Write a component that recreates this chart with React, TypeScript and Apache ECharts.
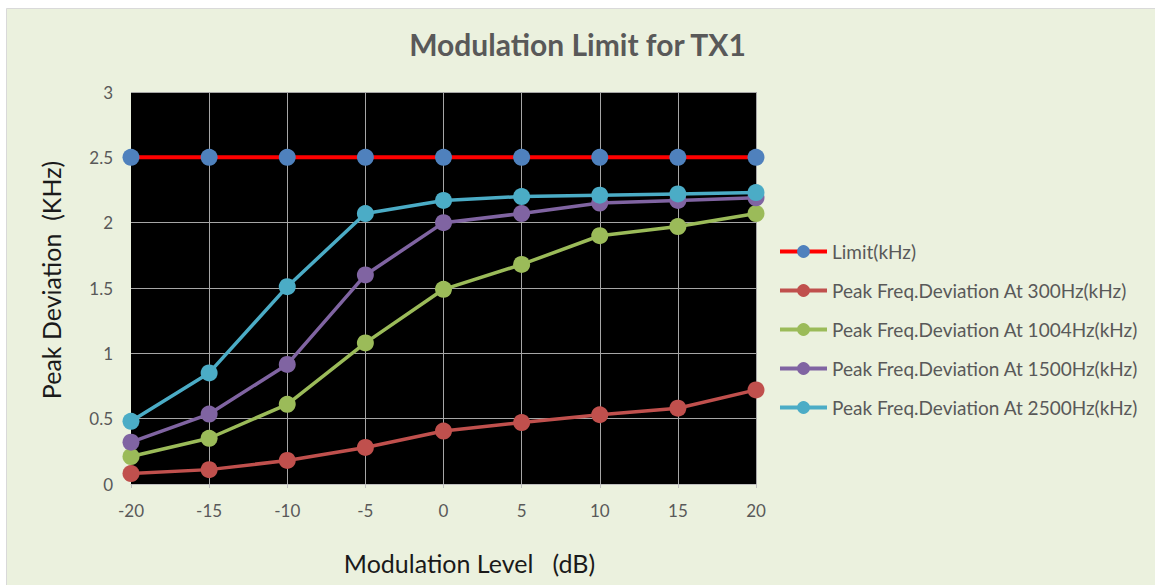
import React, { useEffect, useRef } from "react";
import * as echarts from "echarts";

const levels = [-20, -15, -10, -5, 0, 5, 10, 15, 20];
const limit = [2.5, 2.5, 2.5, 2.5, 2.5, 2.5, 2.5, 2.5, 2.5];
const dev300 = [0.08, 0.11, 0.18, 0.28, 0.405, 0.47, 0.53, 0.58, 0.72];
const dev1004 = [0.21, 0.35, 0.61, 1.08, 1.49, 1.68, 1.9, 1.97, 2.07];
const dev1500 = [0.32, 0.535, 0.915, 1.6, 2.0, 2.07, 2.15, 2.17, 2.19];
const dev2500 = [0.48, 0.85, 1.51, 2.07, 2.17, 2.2, 2.21, 2.22, 2.23];

const seriesNames = [
  "Limit(kHz)",
  "Peak Freq.Deviation At 300Hz(kHz)",
  "Peak Freq.Deviation At 1004Hz(kHz)",
  "Peak Freq.Deviation At 1500Hz(kHz)",
  "Peak Freq.Deviation At 2500Hz(kHz)",
];

const FONT = "Lato";
const GRAY = "#595959";

export default function App() {
  const ref = useRef<HTMLDivElement>(null);
  useEffect(() => {
    if (!ref.current) return;
    const chart = echarts.init(ref.current, undefined, { renderer: "svg" });
    const pair = (vals: number[]) => levels.map((x, i) => [x, vals[i]]);
    const mk = (name: string, vals: number[], lineColor: string, markColor: string, lw: number) => ({
      name,
      type: "line",
      data: pair(vals),
      symbol: "circle",
      symbolSize: 17,
      lineStyle: { color: lineColor, width: lw },
      itemStyle: { color: markColor },
      emphasis: { disabled: true },
    });
    chart.setOption({
      animation: false,
      backgroundColor: "#ffffff",
      graphic: [
        {
          type: "rect",
          shape: { x: 6.5, y: 8.5, width: 1160, height: 590 },
          style: { fill: "#EBF1DE", stroke: "#D9D9D9", lineWidth: 1 },
          z: -10,
          silent: true,
        },
      ],
      title: {
        text: "Modulation Limit for TX1",
        left: "center",
        top: 24,
        padding: [5, 0, 5, 8],
        textStyle: { fontFamily: FONT, fontSize: 30, fontWeight: "bold", color: GRAY },
      },
      legend: {
        orient: "vertical",
        left: 778,
        top: 242,
        padding: 0,
        itemWidth: 47,
        itemHeight: 16,
        itemGap: 20,
        lineStyle: { width: 4 },
        textStyle: { fontFamily: FONT, fontSize: 19, color: GRAY },
        data: seriesNames,
      },
      grid: {
        left: 131,
        top: 92,
        right: 1155 - 756,
        bottom: 585 - 484,
        show: true,
        backgroundColor: "#000000",
        borderWidth: 0,
      },
      xAxis: {
        type: "value",
        min: -20,
        max: 20,
        interval: 5,
        name: "Modulation Level   (dB)",
        nameLocation: "middle",
        nameGap: 66,
        nameTextStyle: { fontFamily: FONT, fontSize: 25, color: "#1a1a1a", padding: [0, 0, 0, 52] },
        axisLine: { show: true, lineStyle: { color: "#BFBFBF", width: 1 } },
        axisTick: { show: true, length: 4, lineStyle: { color: "#BFBFBF" } },
        axisLabel: { fontFamily: FONT, fontSize: 17, color: GRAY, margin: 18 },
        splitLine: { show: true, showMinLine: false, lineStyle: { color: "#A6A6A6", width: 1 } },
      },
      yAxis: {
        type: "value",
        min: 0,
        max: 3,
        interval: 0.5,
        name: "Peak Deviation  (KHz)",
        nameLocation: "middle",
        nameGap: 68,
        nameTextStyle: { fontFamily: FONT, fontSize: 25, color: "#1a1a1a", padding: [0, 0, 0, 16] },
        axisLine: { show: false },
        axisTick: { show: false },
        axisLabel: { fontFamily: FONT, fontSize: 17, color: GRAY, margin: 18 },
        splitLine: { show: true, lineStyle: { color: "#A6A6A6", width: 1 } },
      },
      series: [
        mk(seriesNames[0], limit, "#FF0000", "#4F81BD", 4),
        mk(seriesNames[1], dev300, "#C0504D", "#C0504D", 3.5),
        mk(seriesNames[2], dev1004, "#9BBB59", "#9BBB59", 3.5),
        mk(seriesNames[3], dev1500, "#8064A2", "#8064A2", 3.5),
        mk(seriesNames[4], dev2500, "#4BACC6", "#4BACC6", 3.5),
      ],
    });
    return () => chart.dispose();
  }, []);
  return (
    <div
      ref={ref}
      style={{ position: "absolute", left: 0, top: 0, width: 1155, height: 585 }}
    />
  );
}
